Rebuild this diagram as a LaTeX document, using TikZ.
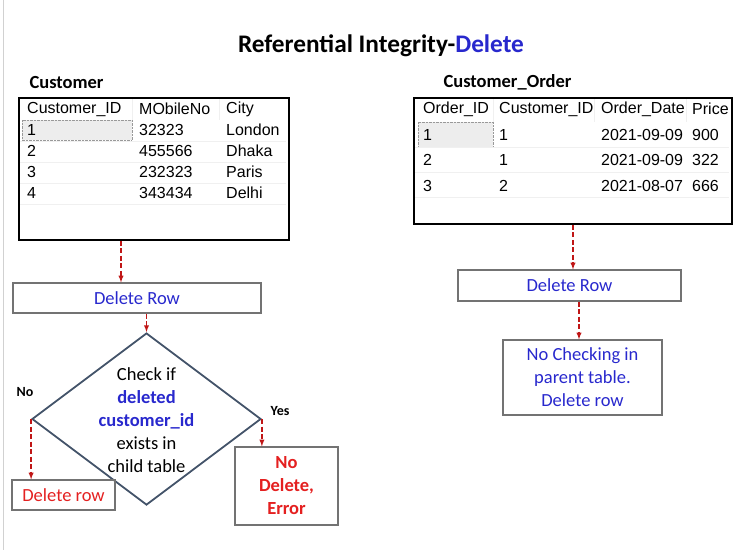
\documentclass[tikz,border=0pt]{standalone}
\usepackage{fontspec}
\setmainfont{Carlito}
\newfontfamily\tabfont{Liberation Sans}
\usetikzlibrary{arrows,shapes.geometric}
\definecolor{delblue}{RGB}{40,40,205}
\definecolor{errred}{RGB}{228,32,32}
\definecolor{arrred}{RGB}{192,22,22}
\definecolor{slate}{RGB}{68,84,106}

\begin{document}
\begin{tikzpicture}[x=1pt, y=-1pt,
                    tabbox/.style={draw=black,line width=1.8pt,anchor=north west,inner sep=0},
                    cell/.style={anchor=west,inner sep=0,font=\tabfont\fontsize{16}{18}\selectfont},
                    grid/.style={draw=black!6,line width=0.6pt},
                    stepbox/.style={draw=black!55,line width=1.2pt,inner sep=0,align=center,
                                    font=\fontsize{18.5}{23}\selectfont},
                    flow/.style={draw=arrred,line width=1.3pt,dash pattern=on 5pt off 2.5pt,-latex},
                    head/.style={anchor=west,font=\bfseries\fontsize{18.5}{22}\selectfont},
                    branch/.style={font=\bfseries\fontsize{14}{16}\selectfont}]
  \useasboundingbox (0,0) rectangle (737,550);
  \draw[black!18,line width=1pt] (3,0) -- (3,550);

  \node[font=\bfseries\fontsize{25.3}{28}\selectfont] (title) at (381,46)
    {Referential Integrity-\textcolor{delblue}{Delete}};

  % parent table
  \node[head] (custlbl) at (26,82) {Customer};
  \node[tabbox,minimum width=270,minimum height=142] (custtab) at (18,97) {};
  \draw[densely dotted,draw=black!40,fill=black!7] (22,120) rectangle (132,140);
  \foreach \y in {141,162,183,204}
    \draw[grid] (20,\y) -- (286,\y);
  \draw[grid] (132,99) -- (132,120) (219,99) -- (219,120);
  \node[cell] (ch1) at (27,109) {Customer\_ID};
  \node[cell] (ch2) at (139,109) {MObileNo};
  \node[cell] (ch3) at (226,109) {City};
  \foreach \id/\mob/\city [count=\r] in {1/32323/London,2/455566/Dhaka,3/232323/Paris,4/343434/Delhi} {
    \node[cell] (cid-\r) at (27,109+21*\r) {\id};
    \node[cell] (cmob-\r) at (139,109+21*\r) {\mob};
    \node[cell] (ccity-\r) at (226,109+21*\r) {\city};
  }

  % child table
  \node[head] (ordlbl) at (440,82) {Customer\_Order};
  \node[tabbox,minimum width=318,minimum height=126] (ordtab) at (413,97) {};
  \draw[densely dotted,draw=black!40,fill=black!7] (418,122) rectangle (493,147);
  \foreach \y in {147,172,197}
    \draw[grid] (415,\y) -- (729,\y);
  \draw[grid] (493,99) -- (493,122) (594,99) -- (594,122) (686,99) -- (686,122);
  \node[cell] (oh1) at (423,109) {Order\_ID};
  \node[cell] (oh2) at (499,109) {Customer\_ID};
  \node[cell] (oh3) at (601,109) {Order\_Date};
  \node[cell] (oh4) at (692,109) {Price};
  \foreach \oid/\cid/\date/\price [count=\r] in {1/1/2021-09-09/900,2/1/2021-09-09/322,3/2/2021-08-07/666} {
    \node[cell] (oid-\r) at (423,109+25.5*\r) {\oid};
    \node[cell] (ocid-\r) at (499,109+25.5*\r) {\cid};
    \node[cell] (odate-\r) at (601,109+25.5*\r) {\date};
    \node[cell] (oprice-\r) at (692,109+25.5*\r) {\price};
  }

  % left flow
  \node[stepbox,minimum width=248,minimum height=30,text=delblue] (delL) at (137,298) {Delete Row};
  \node[diamond,draw=slate,line width=1.8pt,minimum width=229,minimum height=172,inner sep=0] (chk) at (146.5,419) {};
  \node[align=center,font=\fontsize{18.5}{23}\selectfont] (chktxt) at (146.5,420)
    {Check if\\ \textcolor{delblue}{\textbf{deleted}}\\ \textcolor{delblue}{\textbf{customer\_id}}\\ exists in\\ child table};
  \node[stepbox,minimum width=103,minimum height=30,text=errred] (delno) at (63.5,495) {Delete row};
  \node[stepbox,minimum width=103,minimum height=78,text=errred,font=\bfseries\fontsize{18.5}{23}\selectfont] (err) at (286.5,486) {No\\ Delete,\\ Error};
  \node[branch] (nolbl) at (25,392) {No};
  \node[branch] (yeslbl) at (280,411) {Yes};

  \coordinate (a1) at (121,0);
  \draw[flow] (custtab.south -| a1) -- (delL.north -| a1);
  \draw[flow] (delL.south -| chk.north) -- (chk.north);
  \draw[flow] (chk.west) -- (delno.north -| chk.west);
  \draw[flow] (chk.east) -- (err.north -| chk.east);

  % right flow
  \node[stepbox,minimum width=223,minimum height=31,text=delblue] (delR) at (569.5,285.5) {Delete Row};
  \node[stepbox,minimum width=159,minimum height=75,text=delblue] (nochk) at (582.5,377.5)
    {No Checking in\\ parent table.\\ Delete row};

  \coordinate (a2) at (573,0);
  \coordinate (a3) at (579,0);
  \draw[flow] (ordtab.south -| a2) -- (delR.north -| a2);
  \draw[flow] (delR.south -| a3) -- (nochk.north -| a3);
\end{tikzpicture}
\end{document}
